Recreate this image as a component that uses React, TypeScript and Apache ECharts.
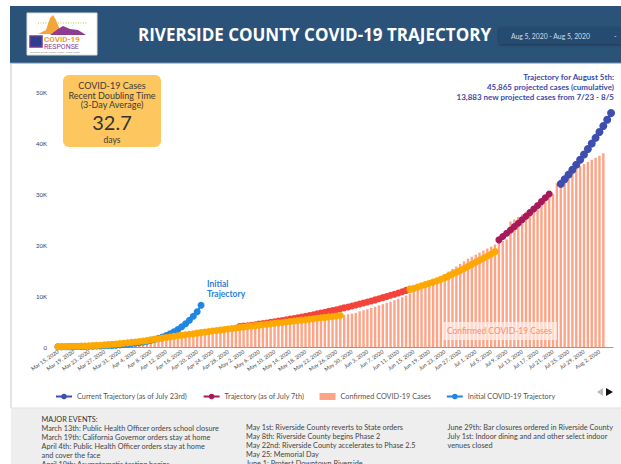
import React, { useEffect, useRef } from "react";
import * as echarts from "echarts";

// ---------- data ----------
const START = { year: 2020, month: 2, day: 15 }; // Mar 15, 2020
const DAY_COUNT = 144; // Mar 15 .. Aug 5
const MONTHS = ["Jan", "Feb", "Mar", "Apr", "May", "Jun", "Jul", "Aug", "Sep", "Oct", "Nov", "Dec"];
const categories: string[] = [];
for (let i = 0; i < DAY_COUNT; i++) {
  const d = new Date(START.year, START.month, START.day + i);
  categories.push(`${MONTHS[d.getMonth()]} ${d.getDate()}, 2020`);
}

const yTicks = [0, 10000, 20000, 30000, 40000, 50000];

// Confirmed cumulative cases, Mar 15 .. Aug 3
const confirmedStart = 0;
const confirmedCases = [
  9, 12, 16, 21, 28, 35, 48, 60, 78, 100, 130, 165, 200, 245, 290, 345, 400,
  465, 530, 600, 680, 760, 850, 950, 1050, 1150, 1250, 1350, 1460, 1580, 1700, 1830,
  1960, 2100, 2250, 2400, 2560, 2720, 2860, 3000, 3130, 3250, 3370, 3490, 3600, 3720, 3850,
  3950, 4040, 4120, 4200, 4290, 4380, 4460, 4540, 4620, 4700, 4780, 4860, 4940, 5020, 5100,
  5180, 5260, 5340, 5420, 5500, 5600, 5700, 5800, 5900, 6000, 6100, 6200, 6300, 6420, 6550, 6700,
  7000, 7200, 7400, 7650, 7900, 8150, 8400, 8650, 8900, 9150, 9450, 9750, 10100, 10450,
  11000, 11400, 11800, 12200, 12600, 13000, 13400, 13800, 14300, 14800, 15300, 15800, 16300, 16800, 17300, 17700,
  18100, 18500, 18900, 19300, 19700, 20100, 20500, 20800, 21100,
  24600, 25000, 25500, 26000, 26500, 27000, 27500, 28000, 28500, 29000, 29500, 30000,
  32100, 32700, 33300, 33900, 34500, 35000, 35500, 35900, 36300, 36700,
  37100, 37500, 38000,
];

// Initial COVID-19 trajectory, Mar 15 .. Apr 21
const initialStart = 0;
const initialTrajectory = [
  45, 52, 60, 69, 79, 91, 105, 120, 138, 159, 183, 210, 242, 278, 320, 368, 423, 486, 559,
  643, 740, 851, 978, 1125, 1300, 1500, 1720, 1970, 2260, 2600, 2990, 3440, 3960, 4550,
  5230, 6020, 6920, 8200,
];

// Orange trajectory segments
const orangeStartA = 0; // Mar 15 .. May 27
const orangeTrajectoryA = [
  60, 75, 90, 110, 130, 155, 180, 210, 240, 275, 315, 360, 410, 465, 525, 590, 660, 735, 815, 900, 990,
  1085, 1185, 1290, 1400, 1515, 1630, 1745, 1860, 1975, 2085, 2190, 2295, 2400, 2505, 2610, 2715,
  2820, 2925, 3025, 3125, 3225, 3325, 3425, 3525, 3625, 3720, 3815, 3910, 4005, 4100, 4190, 4280,
  4370, 4460, 4550, 4640, 4730, 4820, 4910, 5000, 5090, 5180, 5270, 5360, 5450, 5540, 5630, 5720,
  5810, 5900, 5990, 6080, 6170,
];
const orangeStartB = 91; // Jun 14 .. Jul 6
const orangeTrajectoryB = [
  11300, 11500, 11750, 12000, 12250, 12500, 12750, 13000, 13300, 13600, 13950, 14300, 14650,
  15000, 15400, 15800, 16200, 16600, 17000, 17400, 17800, 18250, 18700,
];

// Red trajectory, May 1 .. Jun 14
const redStart = 47;
const redTrajectory = [
  4000, 4090, 4180, 4280, 4380, 4490, 4600, 4710, 4830, 4950, 5070, 5200, 5330, 5460, 5600,
  5740, 5880, 6030, 6180, 6330, 6490, 6650, 6810, 6980, 7150, 7320, 7500, 7680, 7860, 8040,
  8230, 8420, 8620, 8820, 9030, 9240, 9460, 9680, 9900, 10130, 10360, 10600, 10850, 11100, 11350,
];

// Trajectory (as of July 7th), Jul 7 .. Jul 20
const july7Start = 114;
const july7Trajectory = [
  21000, 21650, 22300, 22950, 23600, 24250, 24950, 25650, 26350, 27050, 27750, 28500, 29250, 30000,
];

// Current trajectory (as of July 23rd), Jul 23 .. Aug 5
const currentStart = 130;
const currentTrajectory = [
  31982, 32880, 33800, 34750, 35720, 36720, 37750, 38810, 39900, 41010, 42160, 43340, 44560, 45865,
];

const legendNames = [
  "Current Trajectory (as of July 23rd)",
  "Trajectory (as of July 7th)",
  "Confirmed COVID-19 Cases",
  "Initial COVID-19 Trajectory",
];

const eventsCol1 = [
  "March 13th: Public Health Officer orders school closure",
  "March 19th: California Governor orders stay at home",
  "April 4th: Public Health Officer orders stay at home",
  "and cover the face",
  "April 19th: Asymptomatic testing begins",
];
const eventsCol2 = [
  "May 1st: Riverside County reverts to State orders",
  "May 8th: Riverside County begins Phase 2",
  "May 22nd: Riverside County accelerates to Phase 2.5",
  "May 25: Memorial Day",
  "June 1: Protest Downtown Riverside",
];
const eventsCol3 = [
  "June 29th: Bar closures ordered in Riverside County",
  "July 1st: Indoor dining and and other select indoor",
  "venues closed",
];

// ---------- helpers ----------
function place(start: number, values: number[]): (number | null)[] {
  const out: (number | null)[] = new Array(DAY_COUNT).fill(null);
  values.forEach((v, i) => {
    out[start + i] = v;
  });
  return out;
}

const FONT = "Lato";

function txt(text: string, x: number, y: number, opts: any = {}) {
  return {
    type: "text",
    silent: true,
    style: {
      text,
      x,
      y,
      fill: opts.fill || "#333",
      fontSize: opts.fontSize || 7,
      fontFamily: opts.fontFamily || FONT,
      fontWeight: opts.fontWeight || "normal",
      align: opts.align || "left",
      verticalAlign: "middle",
    },
    z: 100,
  };
}

export default function App() {
  const ref = useRef<HTMLDivElement>(null);

  useEffect(() => {
    document.body.style.margin = "0";
    if (!ref.current) return;
    const chart = echarts.init(ref.current, null, { renderer: "svg" });

    const graphics: any[] = [];
    // header
    graphics.push({ type: "rect", shape: { x: 10, y: 6, width: 611, height: 57 }, style: { fill: "#2B5279" }, z: 90 });
    graphics.push({ type: "line", shape: { x1: 10, y1: 63, x2: 621, y2: 63 }, style: { stroke: "#6E8DAE", lineWidth: 1 }, z: 91 });
    graphics.push({ type: "line", shape: { x1: 11, y1: 63, x2: 11, y2: 408 }, style: { stroke: "#C9C9C9", lineWidth: 1 }, z: 91 });
    // date box
    graphics.push({
      type: "rect",
      shape: { x: 499, y: 27, width: 122, height: 17 },
      style: { fill: "#274C71", shadowBlur: 3, shadowColor: "rgba(0,0,0,0.35)", shadowOffsetY: 1 },
      z: 92,
    });
    graphics.push(txt("Aug 5, 2020 - Aug 5, 2020", 511, 35.5, { fill: "#D3DCE6", fontSize: 6.8 }));
    graphics.push(txt("-", 614, 35.5, { fill: "#D3DCE6", fontSize: 7 }));
    // title
    graphics.push(txt("RIVERSIDE COUNTY COVID-19 TRAJECTORY", 138, 34, { fill: "#FFFFFF", fontSize: 17, fontWeight: "bold", fontFamily: "Open Sans" }));
    // logo
    graphics.push({ type: "rect", shape: { x: 27, y: 13, width: 70, height: 42 }, style: { fill: "#FFFFFF", stroke: "#DDDDDD" }, z: 92 });
    graphics.push({ type: "polygon", shape: { points: [[38, 34], [46, 30], [50, 18], [53, 15], [56, 20], [60, 30], [66, 33], [70, 34]] }, style: { fill: "#F6A43A" }, z: 93 });
    graphics.push({ type: "polygon", shape: { points: [[50, 35], [58, 29], [63, 26], [70, 29], [78, 30], [86, 35]] }, style: { fill: "#8E3C92" }, z: 94 });
    graphics.push({ type: "line", shape: { x1: 38, y1: 23, x2: 87, y2: 23 }, style: { stroke: "#B5D334", lineWidth: 1, lineDash: [1, 1.5] }, z: 95 });
    graphics.push({ type: "rect", shape: { x: 30, y: 36, width: 12, height: 11 }, style: { fill: "#2C3E8F", stroke: "#6F3C8E", lineWidth: 1.5 }, z: 95 });
    graphics.push(txt("COVID-19", 44, 39, { fill: "#F39A2B", fontSize: 8, fontWeight: "bold", fontFamily: "Roboto" }));
    graphics.push(txt("RESPONSE", 44, 46.5, { fill: "#8E3C92", fontSize: 7, fontFamily: "Roboto" }));
    graphics.push(txt("Riverside County Public Health · Public Safety", 30, 52, { fill: "#777", fontSize: 2.5 }));
    // doubling-time box
    graphics.push({ type: "rect", shape: { x: 63, y: 75, width: 98, height: 72, r: 6 }, style: { fill: "#FEC65E" }, z: 95 });
    graphics.push(txt("COVID-19 Cases", 112, 85, { align: "center", fontSize: 9, fill: "#3A3A3A" }));
    graphics.push(txt("Recent Doubling Time", 112, 95, { align: "center", fontSize: 9, fill: "#3A3A3A" }));
    graphics.push(txt("(3-Day Average)", 112, 104.5, { align: "center", fontSize: 9, fill: "#3A3A3A" }));
    graphics.push(txt("32.7", 112, 122, { align: "center", fontSize: 20, fill: "#333" }));
    graphics.push(txt("days", 112, 139.5, { align: "center", fontSize: 8.5, fill: "#3A3A3A" }));
    // top-right annotation
    const annColor = "#3A4BAA";
    graphics.push(txt("Trajectory for August 5th:", 614, 77, { align: "right", fontSize: 8, fontWeight: "bold", fill: annColor }));
    graphics.push(txt("45,865 projected cases (cumulative)", 614, 86.5, { align: "right", fontSize: 8, fontWeight: "bold", fill: annColor }));
    graphics.push(txt("13,883 new projected cases from 7/23 - 8/5", 614, 97, { align: "right", fontSize: 8, fontWeight: "bold", fill: annColor }));
    // initial trajectory annotation
    graphics.push(txt("Initial", 207, 283.5, { fontSize: 8.5, fontWeight: "bold", fill: "#2B80D8" }));
    graphics.push(txt("Trajectory", 207, 293.5, { fontSize: 8.5, fontWeight: "bold", fill: "#2B80D8" }));
    // confirmed label
    graphics.push({ type: "rect", shape: { x: 442, y: 322, width: 115, height: 18 }, style: { fill: "rgba(255,240,234,0.7)" }, z: 99 });
    graphics.push(txt("Confirmed COVID-19 Cases", 499.5, 331, { align: "center", fontSize: 8.5, fill: "#FF8D6B" }));
    // legend page arrows
    graphics.push({ type: "polygon", shape: { points: [[603, 388], [603, 396], [597, 392]] }, style: { fill: "#BBBBBB" }, z: 100 });
    graphics.push({ type: "polygon", shape: { points: [[606, 388], [606, 396], [613, 392]] }, style: { fill: "#111111" }, z: 100 });
    // bottom events panel
    graphics.push({ type: "rect", shape: { x: 11, y: 408, width: 610, height: 56 }, style: { fill: "#EEEEEE" }, z: 90 });
    graphics.push({ type: "line", shape: { x1: 11, y1: 408, x2: 621, y2: 408 }, style: { stroke: "#E2E2E2", lineWidth: 1 }, z: 91 });
    graphics.push(txt("MAJOR EVENTS:", 41.5, 419, { fontSize: 7.3, fill: "#333" }));
    eventsCol1.forEach((t, i) => graphics.push(txt(t, 41.5, 428.5 + i * 9, { fontSize: 7.3, fill: "#444" })));
    eventsCol2.forEach((t, i) => graphics.push(txt(t, 246, 427.7 + i * 8.9, { fontSize: 7.3, fill: "#444" })));
    eventsCol3.forEach((t, i) => graphics.push(txt(t, 447.5, 427.7 + i * 9, { fontSize: 7.3, fill: "#444" })));

    const lineBase = (name: string, data: (number | null)[], color: string, size: number, z: number) => ({
      name,
      type: "line",
      data,
      symbol: "circle",
      symbolSize: size,
      showSymbol: true,
      showAllSymbol: true,
      connectNulls: false,
      itemStyle: { color },
      lineStyle: { color, width: 2 },
      z,
      emphasis: { disabled: true },
    });

    chart.setOption({
      animation: false,
      backgroundColor: "#FFFFFF",
      textStyle: { fontFamily: FONT },
      grid: { left: 56, right: 8, top: 92, bottom: 117, containLabel: false },
      legend: {
        data: [
          { name: legendNames[0] },
          { name: legendNames[1] },
          { name: legendNames[2], icon: "rect" },
          { name: legendNames[3] },
        ],
        left: 50,
        top: 388,
        itemWidth: 16,
        itemHeight: 7,
        itemGap: 15,
        selectedMode: false,
        textStyle: { fontSize: 7.3, color: "#555", fontFamily: FONT },
      },
      xAxis: {
        type: "category",
        data: categories,
        boundaryGap: true,
        axisLine: { show: true, lineStyle: { color: "#999", width: 1 } },
        axisTick: { show: false },
        axisLabel: { interval: 3, rotate: 35, fontSize: 5.4, color: "#444", margin: 4, fontFamily: FONT },
        splitLine: { show: false },
      },
      yAxis: {
        type: "value",
        min: yTicks[0],
        max: yTicks[yTicks.length - 1],
        interval: yTicks[1] - yTicks[0],
        axisLine: { show: false },
        axisTick: { show: false },
        splitLine: { show: false },
        axisLabel: {
          fontSize: 6,
          color: "#3A3A50",
          margin: 9,
          fontFamily: FONT,
          formatter: (v: number) => (v === 0 ? "0" : `${v / 1000}K`),
        },
      },
      series: [
        {
          name: legendNames[2],
          type: "bar",
          data: place(confirmedStart, confirmedCases),
          barWidth: "62%",
          itemStyle: { color: "#FFA386" },
          z: 1,
          emphasis: { disabled: true },
        },
        lineBase(legendNames[3], place(initialStart, initialTrajectory), "#1F86E3", 7, 2),
        lineBase("Trajectory (as of May 1st)", place(redStart, redTrajectory), "#F4433B", 7, 3),
        lineBase("Trajectory (as of June 14th)", place(orangeStartA, orangeTrajectoryA), "#FFA800", 7, 4),
        lineBase("Trajectory (as of June 14th) ", place(orangeStartB, orangeTrajectoryB), "#FFA800", 7, 4),
        lineBase(legendNames[1], place(july7Start, july7Trajectory), "#A61A5C", 7, 5),
        lineBase(legendNames[0], place(currentStart, currentTrajectory), "#3D4EAE", 8, 6),
      ],
      graphic: { elements: graphics },
    });

    return () => chart.dispose();
  }, []);

  return <div ref={ref} style={{ width: 621, height: 464 }} />;
}
